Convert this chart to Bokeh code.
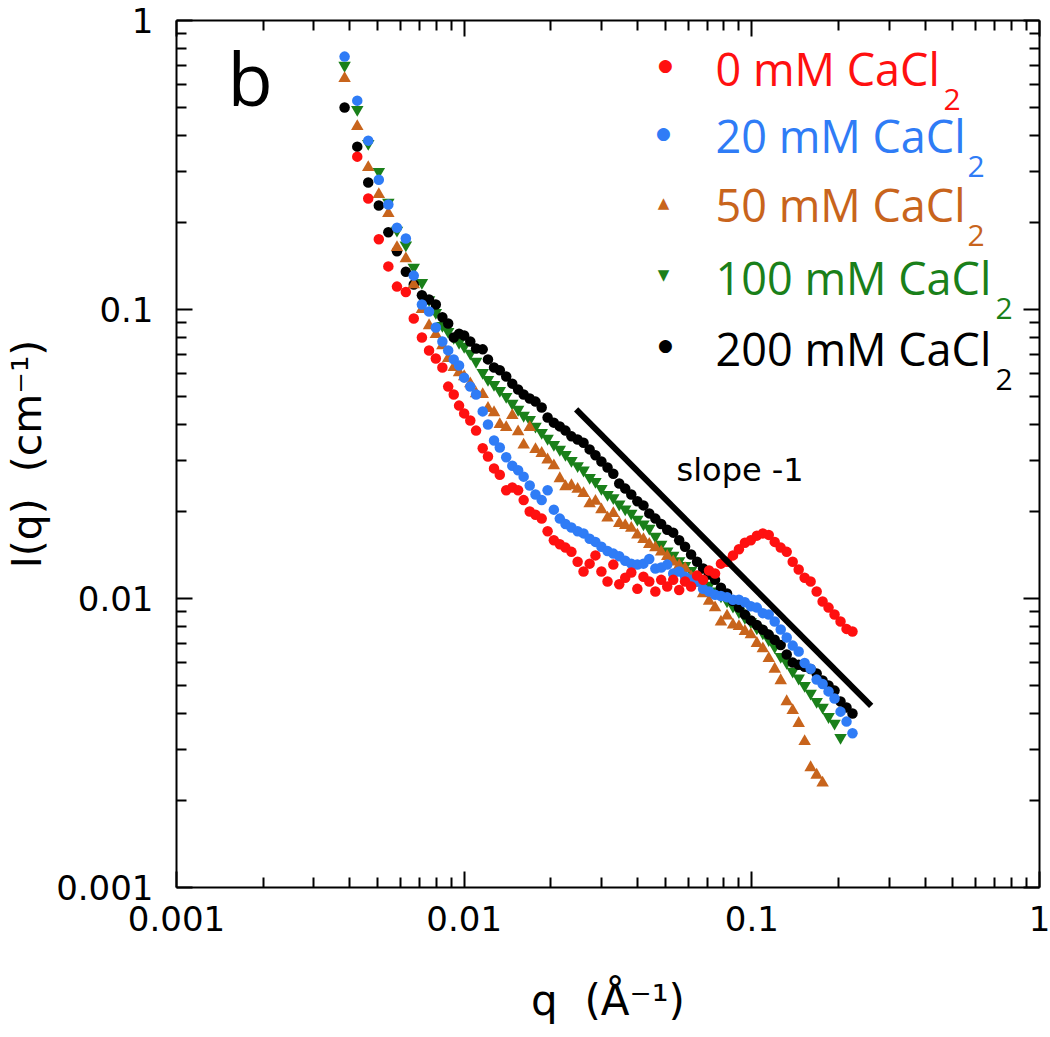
from bokeh.plotting import figure
from bokeh.models import LogAxis, FixedTicker, CustomJSTickFormatter, Label, Range1d
from bokeh.embed import file_html
from bokeh.resources import INLINE

# ---------------- data ----------------
q_grid = [0.00384, 0.00425, 0.00464, 0.00505, 0.00545, 0.00584, 0.00627, 0.00668,
          0.00713, 0.00755, 0.00797, 0.0084, 0.0088, 0.0092, 0.0096, 0.0100,
          0.0105, 0.0110, 0.0116, 0.0121, 0.0127, 0.0133, 0.0140, 0.0147, 0.0154, 0.0161,
          0.0169, 0.0177, 0.0186, 0.0195, 0.0205, 0.0215, 0.0225, 0.0236, 0.0248, 0.0260,
          0.0273, 0.0286, 0.0300, 0.0315, 0.0330, 0.0346, 0.0363, 0.0381, 0.0400, 0.0420,
          0.0440, 0.0462, 0.0484, 0.0508, 0.0533, 0.0559, 0.0586, 0.0615, 0.0645, 0.0677,
          0.0710, 0.0745, 0.0781, 0.0820, 0.0860, 0.0902, 0.0946, 0.0992, 0.1041, 0.1092,
          0.1145, 0.1201, 0.1260, 0.1322, 0.1387, 0.1455, 0.1526, 0.1601, 0.1680, 0.1762,
          0.1848, 0.1939, 0.2034, 0.2134, 0.2238]

# 0 mM CaCl2 (starts at q_grid[1])
I_0mM = [0.338, 0.242, 0.175, 0.141, 0.120, 0.115, 0.0931, 0.0800, 0.0721, 0.0677,
         0.0630, 0.0541, 0.0508, 0.0465, 0.0437,
         0.0413, 0.0381, 0.0331, 0.0310, 0.0282, 0.0268, 0.0237, 0.0242, 0.0237, 0.0219,
         0.0200, 0.0195, 0.0189, 0.0171, 0.0159, 0.0154, 0.0150, 0.0145, 0.0134, 0.0124,
         0.0132, 0.0141, 0.0124, 0.01145, 0.0131, 0.0112, 0.0118, 0.0123, 0.0108, 0.0119,
         0.01145, 0.01057, 0.0116, 0.0110, 0.0116, 0.0107, 0.01145, 0.0110, 0.0120, 0.0116,
         0.0125, 0.0122, 0.0132, 0.0134, 0.0141, 0.0148, 0.0156, 0.0159, 0.0165, 0.0168,
         0.0166, 0.0157, 0.0150, 0.0145, 0.0134, 0.0126, 0.0118, 0.01145, 0.01057, 0.00976,
         0.00930, 0.00880, 0.00833, 0.00785, 0.00769]

# 20 mM CaCl2 (all of q_grid)
I_20mM = [0.750, 0.528, 0.384, 0.281, 0.231, 0.192, 0.176, 0.131, 0.104, 0.0984,
          0.0866, 0.0775, 0.0722, 0.0672, 0.0640, 0.0581,
          0.0541, 0.0508, 0.0444, 0.0400, 0.0352, 0.0333, 0.0308, 0.0288, 0.0278, 0.0264,
          0.0246, 0.0229, 0.0219, 0.0237, 0.0203, 0.0189, 0.0181, 0.0176, 0.0171, 0.0168,
          0.0161, 0.0157, 0.0151, 0.0146, 0.0143, 0.0140, 0.0135, 0.0132, 0.0131, 0.0132,
          0.0137, 0.0127, 0.0128, 0.0131, 0.0122, 0.0124, 0.0119, 0.0116, 0.01145, 0.0108,
          0.01057, 0.0103, 0.0102, 0.0101, 0.0099, 0.0099, 0.0097, 0.0094, 0.0093, 0.0089,
          0.0088, 0.00833, 0.00781, 0.00733, 0.00687, 0.00656, 0.00598, 0.00571, 0.00524, 0.00506,
          0.00477, 0.00451, 0.00406, 0.00375, 0.00342]

# 50 mM CaCl2 (q_grid[0:76])
I_50mM = [0.630, 0.430, 0.310, 0.250, 0.215, 0.164, 0.150, 0.122, 0.100, 0.088,
          0.082, 0.075, 0.0677, 0.0630, 0.0605, 0.0586,
          0.0554, 0.0512, 0.0508, 0.0455, 0.0440, 0.0400, 0.0391, 0.0430, 0.0378, 0.0340,
          0.0391, 0.0328, 0.0318, 0.0302, 0.0288, 0.0260, 0.0244, 0.0246, 0.0239, 0.0231,
          0.0213, 0.0217, 0.0203, 0.0190, 0.0197, 0.0182, 0.0179, 0.0175, 0.0166, 0.0160,
          0.0154, 0.0150, 0.0145, 0.0140, 0.0134, 0.0130, 0.0127, 0.0119, 0.0113, 0.0104,
          0.0098, 0.0093, 0.0083, 0.0087, 0.0081, 0.0080, 0.0077, 0.0075, 0.0070, 0.0067,
          0.0062, 0.0057, 0.0052, 0.0044, 0.0041, 0.0037, 0.0032, 0.0026, 0.00245, 0.0023]

# 100 mM CaCl2 (q_grid[0:79])
I_100mM = [0.699, 0.492, 0.375, 0.300, 0.235, 0.188, 0.167, 0.140, 0.124, 0.108,
           0.0976, 0.0880, 0.0839, 0.0800, 0.0769, 0.0745,
           0.0705, 0.0661, 0.0605, 0.0572, 0.0550, 0.0524, 0.0500, 0.0473, 0.0451, 0.0430,
           0.0416, 0.0394, 0.0375, 0.0358, 0.0341, 0.0328, 0.0315, 0.0300, 0.0288, 0.0278,
           0.0262, 0.0254, 0.0240, 0.0229, 0.0223, 0.0212, 0.0204, 0.0197, 0.0188, 0.0181,
           0.0175, 0.0164, 0.0154, 0.0146, 0.0141, 0.0135, 0.0130, 0.0125, 0.0120, 0.0115,
           0.0111, 0.0106, 0.0102, 0.0098, 0.0094, 0.0090, 0.0086, 0.0083, 0.0079, 0.0076,
           0.0072, 0.0068, 0.0063, 0.0060, 0.0056, 0.0053, 0.0050, 0.0047, 0.0044, 0.0042,
           0.0039, 0.0037, 0.0033]

# 200 mM CaCl2 (all of q_grid)
I_200mM = [0.500, 0.366, 0.275, 0.229, 0.185, 0.159, 0.135, 0.122, 0.112, 0.1083,
           0.104, 0.094, 0.0895, 0.080, 0.0825, 0.0813,
           0.0775, 0.0733, 0.0728, 0.0672, 0.0630, 0.0616, 0.0586, 0.0554, 0.0529, 0.0508,
           0.0492, 0.0480, 0.0458, 0.0423, 0.0406, 0.0394, 0.0381, 0.0364, 0.0355, 0.0346,
           0.0328, 0.0313, 0.0298, 0.0284, 0.0270, 0.0250, 0.0240, 0.0229, 0.0217, 0.0210,
           0.0197, 0.0189, 0.0181, 0.0173, 0.0169, 0.0159, 0.0151, 0.0142, 0.0134, 0.0127,
           0.0121, 0.0116, 0.0109, 0.0104, 0.0098, 0.0093, 0.0088, 0.0084, 0.0081, 0.0078,
           0.0075, 0.0072, 0.0069, 0.0064, 0.0060, 0.0059, 0.0058, 0.0057, 0.0055, 0.0052,
           0.0050, 0.0048, 0.0044, 0.0042, 0.0040]

# guide line with slope -1
slope_q = [0.0245, 0.26]
slope_I = [0.0451, 0.00425]

series_names = ["0 mM CaCl", "20 mM CaCl", "50 mM CaCl", "100 mM CaCl", "200 mM CaCl"]
series_colors = ["#ff1010", "#2f7cf6", "#c8641c", "#1a801a", "#000000"]

tick_values = [0.001, 0.01, 0.1, 1]
minor_values = [k * 10.0 ** e for e in (-3, -2, -1) for k in range(2, 10)]

# ---------------- figure ----------------
p = figure(width=1050, height=1037, x_axis_type="log", y_axis_type="log",
           x_range=Range1d(0.001, 1), y_range=Range1d(0.001, 1),
           output_backend="svg", toolbar_location=None,
           min_border_left=176, min_border_right=11, min_border_top=20, min_border_bottom=150)
p.outline_line_color = None
p.background_fill_color = "white"
p.xgrid.visible = False
p.ygrid.visible = False

bottom_axis = p.below[0]
left_axis = p.left[0]

fmt = CustomJSTickFormatter(code="return parseFloat(tick.toPrecision(6)).toString()")
blank = CustomJSTickFormatter(code="return ''")

top_axis = LogAxis(formatter=blank, major_label_text_font_size="0px",
                   major_label_standoff=0, axis_label_standoff=0)
right_axis = LogAxis(formatter=blank, major_label_text_font_size="0px",
                     major_label_standoff=0, axis_label_standoff=0)
p.add_layout(top_axis, "above")
p.add_layout(right_axis, "right")

for ax in [bottom_axis, left_axis, top_axis, right_axis]:
    ax.ticker = FixedTicker(ticks=tick_values, minor_ticks=minor_values)
    ax.axis_line_width = 2
    ax.axis_line_color = "black"
    ax.major_tick_in = 16
    ax.major_tick_out = 0
    ax.minor_tick_in = 10
    ax.minor_tick_out = 0
    ax.major_tick_line_width = 2
    ax.minor_tick_line_width = 2
    ax.major_tick_line_color = "black"
    ax.minor_tick_line_color = "black"

for ax in [bottom_axis, left_axis]:
    ax.formatter = fmt
    ax.major_label_text_font = "DejaVu Sans"
    ax.major_label_text_font_size = "34px"
    ax.major_label_text_color = "black"
    ax.axis_label_text_font = "DejaVu Sans"
    ax.axis_label_text_font_size = "42px"
    ax.axis_label_text_font_style = "normal"
    ax.axis_label_text_color = "black"

bottom_axis.axis_label = "q\u00a0\u00a0(Å⁻¹)"
bottom_axis.major_label_standoff = 18
bottom_axis.axis_label_standoff = 42
left_axis.axis_label = "I(q)\u00a0\u00a0(cm⁻¹)"
left_axis.axis_label_text_font_size = "41px"
left_axis.major_label_standoff = 23
left_axis.axis_label_standoff = 2

# ---------------- data marks ----------------
p.scatter(q_grid[:79], I_100mM, marker="inverted_triangle", size=12.5,
          fill_color=series_colors[3], line_color=None)
p.scatter(q_grid, I_200mM, marker="circle", size=10.5,
          fill_color=series_colors[4], line_color=None)
p.scatter(q_grid[:76], I_50mM, marker="triangle", size=12.5,
          fill_color=series_colors[2], line_color=None)
p.scatter(q_grid, I_20mM, marker="circle", size=10.5,
          fill_color=series_colors[1], line_color=None)
p.scatter(q_grid[1:], I_0mM, marker="circle", size=10.5,
          fill_color=series_colors[0], line_color=None)

p.line(slope_q, slope_I, line_color="black", line_width=6)

# ---------------- annotations ----------------
def add_label(x, y, text, font, size, color="black", align="left", baseline="alphabetic"):
    p.add_layout(Label(x=x, y=y, x_units="screen", y_units="screen", text=text,
                       text_font=font, text_font_size=size, text_color=color,
                       text_align=align, text_baseline=baseline))

add_label(51, 810, "b", "Open Sans", "74px")
add_label(500, 418, "slope -1", "DejaVu Sans", "32px")

legend_main_y = [819, 752, 683, 610, 539]
legend_sub_x = [767, 791, 791, 819, 819]
legend_sub_y = [788, 721, 652, 579, 508]
legend_marker_x = [489, 487, 487, 487, 489]
legend_marker_y = [823, 755, 685, 613, 543]
legend_symbols = ["●", "●", "▲", "▼", "●"]
legend_symbol_size = ["17px", "17px", "15px", "15px", "17px"]
for i, name in enumerate(series_names):
    add_label(539, legend_main_y[i], name, "Open Sans", "45px", series_colors[i])
    add_label(legend_sub_x[i], legend_sub_y[i], "2", "Open Sans", "30px", series_colors[i])
    add_label(legend_marker_x[i], legend_marker_y[i], legend_symbols[i], "DejaVu Sans",
              legend_symbol_size[i], series_colors[i], align="center", baseline="middle")

open("out.html", "w").write(file_html(p, INLINE))
